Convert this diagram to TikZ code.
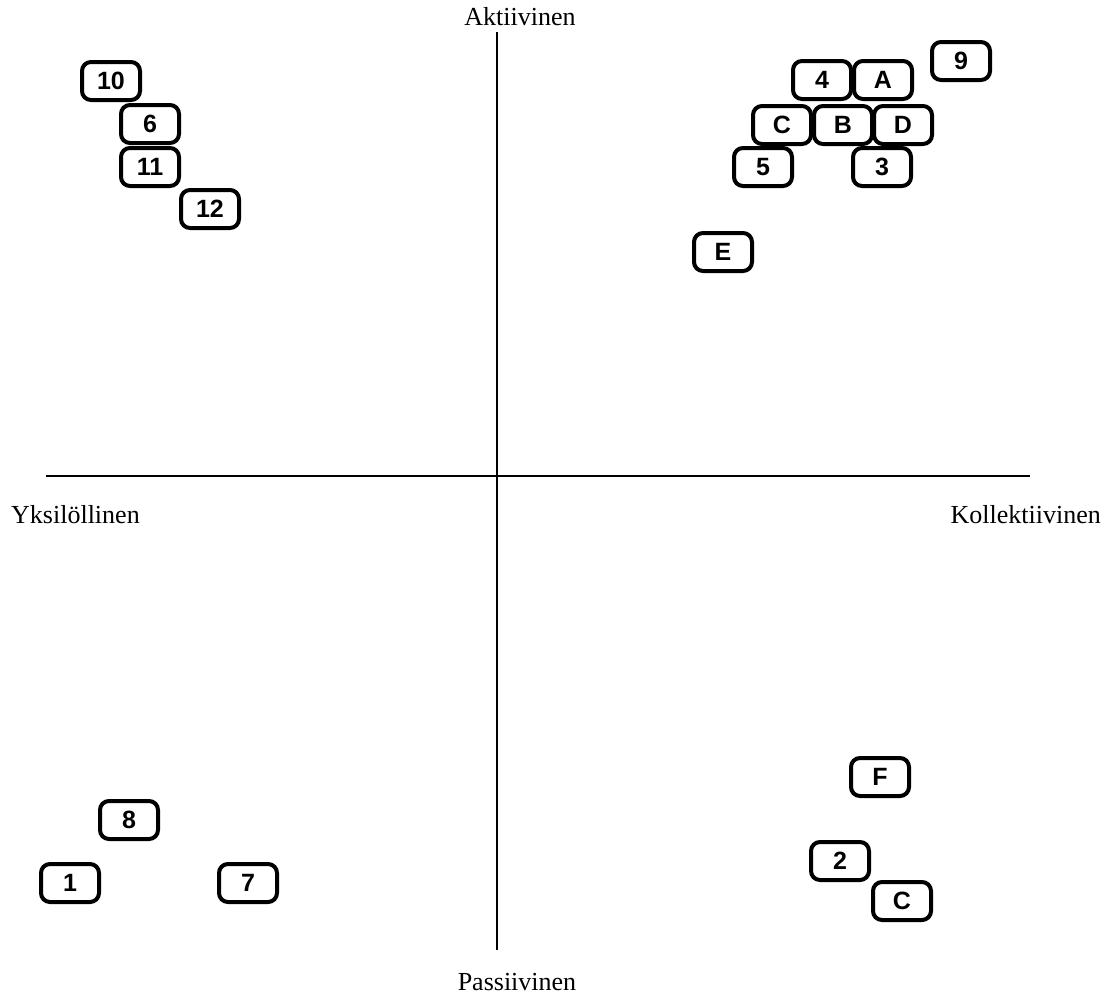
\documentclass[tikz,border=0pt]{standalone}
\usepackage{fontspec}
\setmainfont{Liberation Serif}
\setsansfont{Liberation Sans}
\usepackage{tikz}
\usetikzlibrary{positioning}

\begin{document}
\begin{tikzpicture}[x=1pt, y=-1pt,
  item/.style={draw=black, line width=4pt, rounded corners=9pt, fill=white,
    minimum width=58pt, minimum height=38pt, inner sep=0pt,
    font=\sffamily\bfseries\fontsize{25}{30}\selectfont},
  axislabel/.style={inner sep=0pt, font=\fontsize{26}{30}\selectfont},
  axis/.style={line width=2.8pt, draw=black}]
  \useasboundingbox (0,0) rectangle (1113,996);
  % axes
  \coordinate (west) at (46,476);
  \coordinate (east) at (1030,476);
  \coordinate (north) at (497,32);
  \coordinate (south) at (497,950);
  \draw[axis] (west) -- (east);
  \draw[axis] (north) -- (south);
  \node[axislabel, anchor=base] (akt) at (520,25) {Aktiivinen};
  \node[axislabel, anchor=base] (pas) at (517,990) {Passiivinen};
  \node[axislabel, anchor=base west] (yks) at (11,523) {Yksilöllinen};
  \node[axislabel, anchor=base east] (kol) at (1101,523) {Kollektiivinen};
  % upper left
  \node[item] (i10) at (111,81) {10};
  \node[item] (i6) at (150,124) {6};
  \node[item] (i11) at (150,167) {11};
  \node[item] (i12) at (210,209) {12};
  % upper right
  \node[item] (i9) at (961,61) {9};
  \node[item] (i4) at (822,80) {4};
  \node[item] (iA) at (883,80) {A};
  \node[item] (iC) at (782,125) {C};
  \node[item] (iB) at (843,125) {B};
  \node[item] (iD) at (903,125) {D};
  \node[item] (i5) at (763,167) {5};
  \node[item] (i3) at (882,167) {3};
  \node[item] (iE) at (723,252) {E};
  % lower left
  \node[item] (i8) at (129,820) {8};
  \node[item] (i1) at (70,883) {1};
  \node[item] (i7) at (248,883) {7};
  % lower right
  \node[item] (iF) at (880,777) {F};
  \node[item] (i2) at (840,861) {2};
  \node[item] (iC2) at (902,901) {C};
\end{tikzpicture}
\end{document}
